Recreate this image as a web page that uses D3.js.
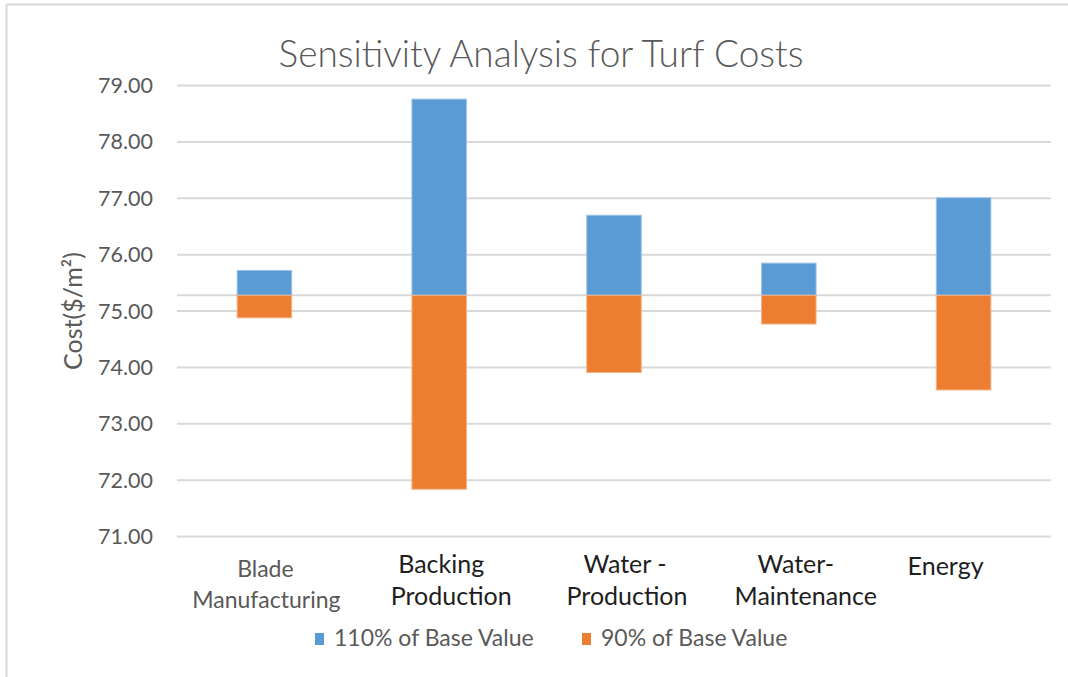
<!DOCTYPE html>
<html>
<head>
<meta charset="utf-8">
<script src="https://cdn.jsdelivr.net/npm/d3@7"></script>
<style>
  html, body { margin: 0; padding: 0; background: #fff; }
  svg { display: block; }
  text { font-family: Lato, "Open Sans", "Liberation Sans", sans-serif; }
</style>
</head>
<body>
<svg id="chart" width="1068" height="677"></svg>
<script>
// ---- data ----
const categories = ["Blade Manufacturing", "Backing Production", "Water - Production", "Water-Maintenance", "Energy"];
const categoryLines = [["Blade", "Manufacturing"], ["Backing", "Production"], ["Water -", "Production"], ["Water-", "Maintenance"], ["Energy"]];
const baseValue = 75.27;
const high110 = [75.71, 78.75, 76.69, 75.84, 77.00];
const low90 = [74.87, 71.83, 73.90, 74.76, 73.59];
const yTicks = [71, 72, 73, 74, 75, 76, 77, 78, 79];
const seriesNames = ["110% of Base Value", "90% of Base Value"];
const chartTitle = "Sensitivity Analysis for Turf Costs";

// ---- layout / style ----
const colors = ["#5B9BD5", "#ED7D31"];
const plot = { left: 177, right: 1051, top: 85, bottom: 536 };
const labelDx = [[1, 2], [2, 12], [11, 13], [7, 17], [-18]];

const svg = d3.select("#chart");

// frame
svg.append("line").attr("x1", 6.5).attr("x2", 6.5).attr("y1", 4).attr("y2", 677)
  .attr("stroke", "#d9d9d9").attr("stroke-width", 2);
svg.append("line").attr("x1", 6).attr("x2", 1068).attr("y1", 4.5).attr("y2", 4.5)
  .attr("stroke", "#d9d9d9").attr("stroke-width", 2);

const x = d3.scaleBand().domain(categories).range([plot.left, plot.right])
  .paddingInner(0.688).paddingOuter(0.344);
const y = d3.scaleLinear().domain([71, 79]).range([plot.bottom, plot.top]);

// gridlines + tick labels via axis
const yAxis = d3.axisLeft(y).tickValues(yTicks).tickFormat(d3.format(".2f"))
  .tickSize(-(plot.right - plot.left)).tickPadding(24);
const gy = svg.append("g").attr("transform", `translate(${plot.left},0)`).call(yAxis);
gy.select(".domain").remove();
gy.selectAll(".tick line").attr("stroke", "#d9d9d9").attr("stroke-width", 2);
gy.selectAll(".tick text").attr("fill", "#595959").attr("font-size", 21.5)
  .attr("dy", "0.35em");

// base axis line
svg.append("line").attr("x1", plot.left).attr("x2", plot.right)
  .attr("y1", y(baseValue)).attr("y2", y(baseValue))
  .attr("stroke", "#d9d9d9").attr("stroke-width", 2);

// bars
const series = [high110, low90];
series.forEach((vals, si) => {
  svg.append("g").selectAll("rect").data(vals).join("rect")
    .attr("x", (d, i) => x(categories[i]))
    .attr("width", x.bandwidth())
    .attr("y", d => Math.min(y(d), y(baseValue)))
    .attr("height", d => Math.abs(y(d) - y(baseValue)))
    .attr("fill", colors[si])
    .attr("stroke", si === 0 ? "#9cc3e8" : "#f4b48a")
    .attr("stroke-width", 1);
});

// category labels
const lineBase = [[577, 608], [573, 605], [573, 605], [573, 605], [575]];
categoryLines.forEach((lines, i) => {
  lines.forEach((ln, j) => {
    svg.append("text")
      .attr("x", x(categories[i]) + x.bandwidth() / 2 + labelDx[i][j])
      .attr("y", lineBase[i][j])
      .attr("text-anchor", "middle")
      .attr("font-size", i === 0 ? 23 : 25)
      .attr("fill", i === 0 ? "#595959" : "#1e1e1e")
      .text(ln);
  });
});

// y-axis title
svg.append("text")
  .attr("transform", `translate(82,311) rotate(-90)`)
  .attr("text-anchor", "middle")
  .attr("font-size", 25)
  .attr("fill", "#595959")
  .text("Cost($/m²)");

// title
svg.append("text")
  .attr("x", 541).attr("y", 67)
  .attr("text-anchor", "middle")
  .attr("font-size", 37)
  .attr("font-weight", 300)
  .attr("fill", "#595959")
  .text(chartTitle);

// legend
const legendItems = [{ name: seriesNames[0], color: colors[0], x: 315 }, { name: seriesNames[1], color: colors[1], x: 582 }];
legendItems.forEach(it => {
  svg.append("rect").attr("x", it.x).attr("y", 633).attr("width", 9).attr("height", 12).attr("fill", it.color);
  svg.append("text").attr("x", it.x + 19).attr("y", 646)
    .attr("font-size", 23).attr("fill", "#595959").text(it.name);
});
</script>
</body>
</html>
